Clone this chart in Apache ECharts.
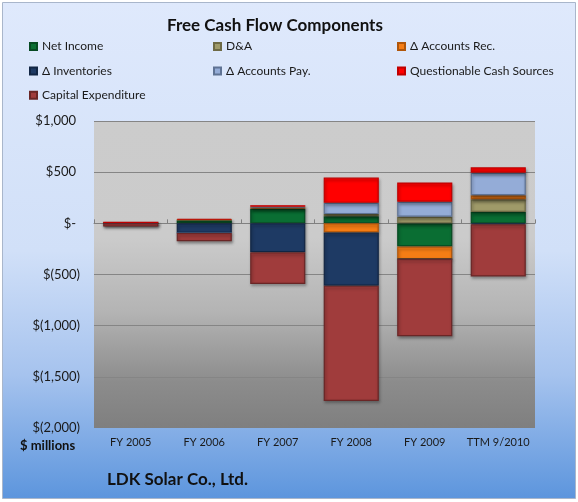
<!DOCTYPE html>
<html>
<head>
<meta charset="utf-8">
<script src="https://cdn.jsdelivr.net/npm/echarts@6/dist/echarts.min.js"></script>
<style>
html,body{margin:0;padding:0;background:#fff;}
#c{width:578px;height:502px;}
</style>
</head>
<body>
<div id="c"></div>
<script>
const categories = ['FY 2005', 'FY 2006', 'FY 2007', 'FY 2008', 'FY 2009', 'TTM 9/2010'];
const netIncome        = [0,    30,   142,   70,  -227,  111];
const dna              = [0,     5,    10,   20,    65,  124];
const accountsRec      = [0,     0,     0,  -90,  -123,   39];
const inventories      = [0,   -95,  -283, -519,     0,  -10];
const accountsPay      = [10,    0,    10,  110,   146,  221];
const questionable     = [0,    10,    15,  247,   188,   52];
const capex            = [-32, -80,  -309, -1127, -754, -510];
const yTicks = [-2000, -1500, -1000, -500, 0, 500, 1000];

const FONT = 'Lato, "Open Sans", sans-serif';

const seriesDefs = [
  {name: 'Net Income', data: netIncome, color: '#0a6e33', border: '#064a22'},
  {name: 'D&A', data: dna, color: '#9f9a69', border: '#6e6a45'},
  {name: '\u0394 Accounts Rec.', data: accountsRec, color: '#f57d15', border: '#b0560a'},
  {name: '\u0394 Inventories', data: inventories, color: '#1e3a64', border: '#122644'},
  {name: '\u0394 Accounts Pay.', data: accountsPay, color: '#94acd7', border: '#5f7394'},
  {name: 'Questionable Cash Sources', data: questionable, color: '#ff0000', border: '#c00000'},
  {name: 'Capital Expenditure', data: capex, color: '#a03c3c', border: '#6a2626'}
];

function fmt(v) {
  if (v === 0) return '{p|$-}';
  const s = Math.abs(v).toLocaleString('en-US');
  if (v > 0) return '{p|$' + s + '}';
  return '{n|$(' + s + ')}';
}

const chart = echarts.init(document.getElementById('c'), null, {renderer: 'canvas'});

const legendCommon = {
  orient: 'vertical',
  top: 34.5,
  itemWidth: 7,
  itemHeight: 7,
  itemGap: 10.4,
  icon: 'rect',
  textStyle: {fontFamily: FONT, fontSize: 12, color: '#1a1a1a', lineHeight: 14}
};

const option = {
  animation: false,
  backgroundColor: '#ffffff',
  textStyle: {fontFamily: FONT},
  graphic: {
    elements: [
      {
        type: 'rect', z: -10, silent: true,
        shape: {x: 2.5, y: 2.5, width: 573, height: 496},
        style: {
          stroke: '#a9b6cb', lineWidth: 1,
          fill: new echarts.graphic.LinearGradient(0, 0, 0, 1, [
            {offset: 0, color: '#dfe9fc'},
            {offset: 0.5, color: '#d1e0f8'},
            {offset: 0.75, color: '#a6c3ee'},
            {offset: 1, color: '#5c95dd'}
          ])
        }
      },
      {
        type: 'text', left: 20, top: 439,
        style: {text: '$ millions', font: 'bold 13px ' + FONT, fill: '#111'}
      },
      {
        type: 'text', left: 107, top: 471,
        style: {text: 'LDK Solar Co., Ltd.', font: 'bold 17px ' + FONT, fill: '#111'}
      }
    ]
  },
  title: {
    text: 'Free Cash Flow Components',
    left: 162,
    top: 12,
    textStyle: {fontFamily: FONT, fontSize: 17, fontWeight: 'bold', color: '#111'}
  },
  legend: [
    Object.assign({}, legendCommon, {left: 24, data: ['Net Income', '\u0394 Inventories', 'Capital Expenditure']}),
    Object.assign({}, legendCommon, {left: 208, data: ['D&A', '\u0394 Accounts Pay.']}),
    Object.assign({}, legendCommon, {left: 392, data: ['\u0394 Accounts Rec.', 'Questionable Cash Sources']})
  ],
  grid: {
    left: 94, top: 121, width: 441, height: 307,
    show: true,
    borderWidth: 0,
    backgroundColor: new echarts.graphic.LinearGradient(0, 0, 0, 1, [
      {offset: 0, color: '#cccccc'},
      {offset: 0.38, color: '#cbcbcb'},
      {offset: 0.62, color: '#b4b4b4'},
      {offset: 0.85, color: '#8c8c8c'},
      {offset: 1, color: '#7f7f7f'}
    ])
  },
  xAxis: [
    {
      type: 'category',
      data: categories,
      position: 'bottom',
      axisLine: {show: false, onZero: false},
      axisTick: {show: false},
      axisLabel: {interval: 0, fontFamily: FONT, fontSize: 11, color: '#1a1a1a', margin: 9}
    },
    {
      type: 'category',
      data: categories,
      position: 'bottom',
      axisLine: {show: true, onZero: true, lineStyle: {color: '#808080', width: 1}},
      axisTick: {show: true, inside: true, length: 4, interval: 0, lineStyle: {color: '#808080'}},
      axisLabel: {show: false}
    }
  ],
  yAxis: {
    type: 'value',
    min: yTicks[0],
    max: yTicks[yTicks.length - 1],
    interval: 500,
    axisLine: {show: false},
    axisTick: {show: false},
    splitLine: {
      show: true,
      lineStyle: {
        color: ['rgba(0,0,0,0)', '#858585', '#858585', '#858585', '#858585', '#858585', '#858585'],
        width: 1
      }
    },
    axisLabel: {
      margin: 14,
      formatter: fmt,
      rich: {
        p: {fontFamily: FONT, fontSize: 13, color: '#1a1a1a', padding: [0, 4, 0, 0]},
        n: {fontFamily: FONT, fontSize: 13, color: '#1a1a1a'}
      }
    }
  },
  series: seriesDefs.map(d => ({
    name: d.name,
    type: 'bar',
    stack: 'total',
    xAxisIndex: 0,
    barCategoryGap: '25%',
    data: d.data,
    itemStyle: {
      color: d.color,
      borderColor: d.border,
      borderWidth: 1.2,
      shadowBlur: 3,
      shadowOffsetX: 1,
      shadowOffsetY: 2,
      shadowColor: 'rgba(0,0,0,0.35)'
    },
    emphasis: {disabled: true}
  }))
};

chart.setOption(option);
</script>
</body>
</html>
